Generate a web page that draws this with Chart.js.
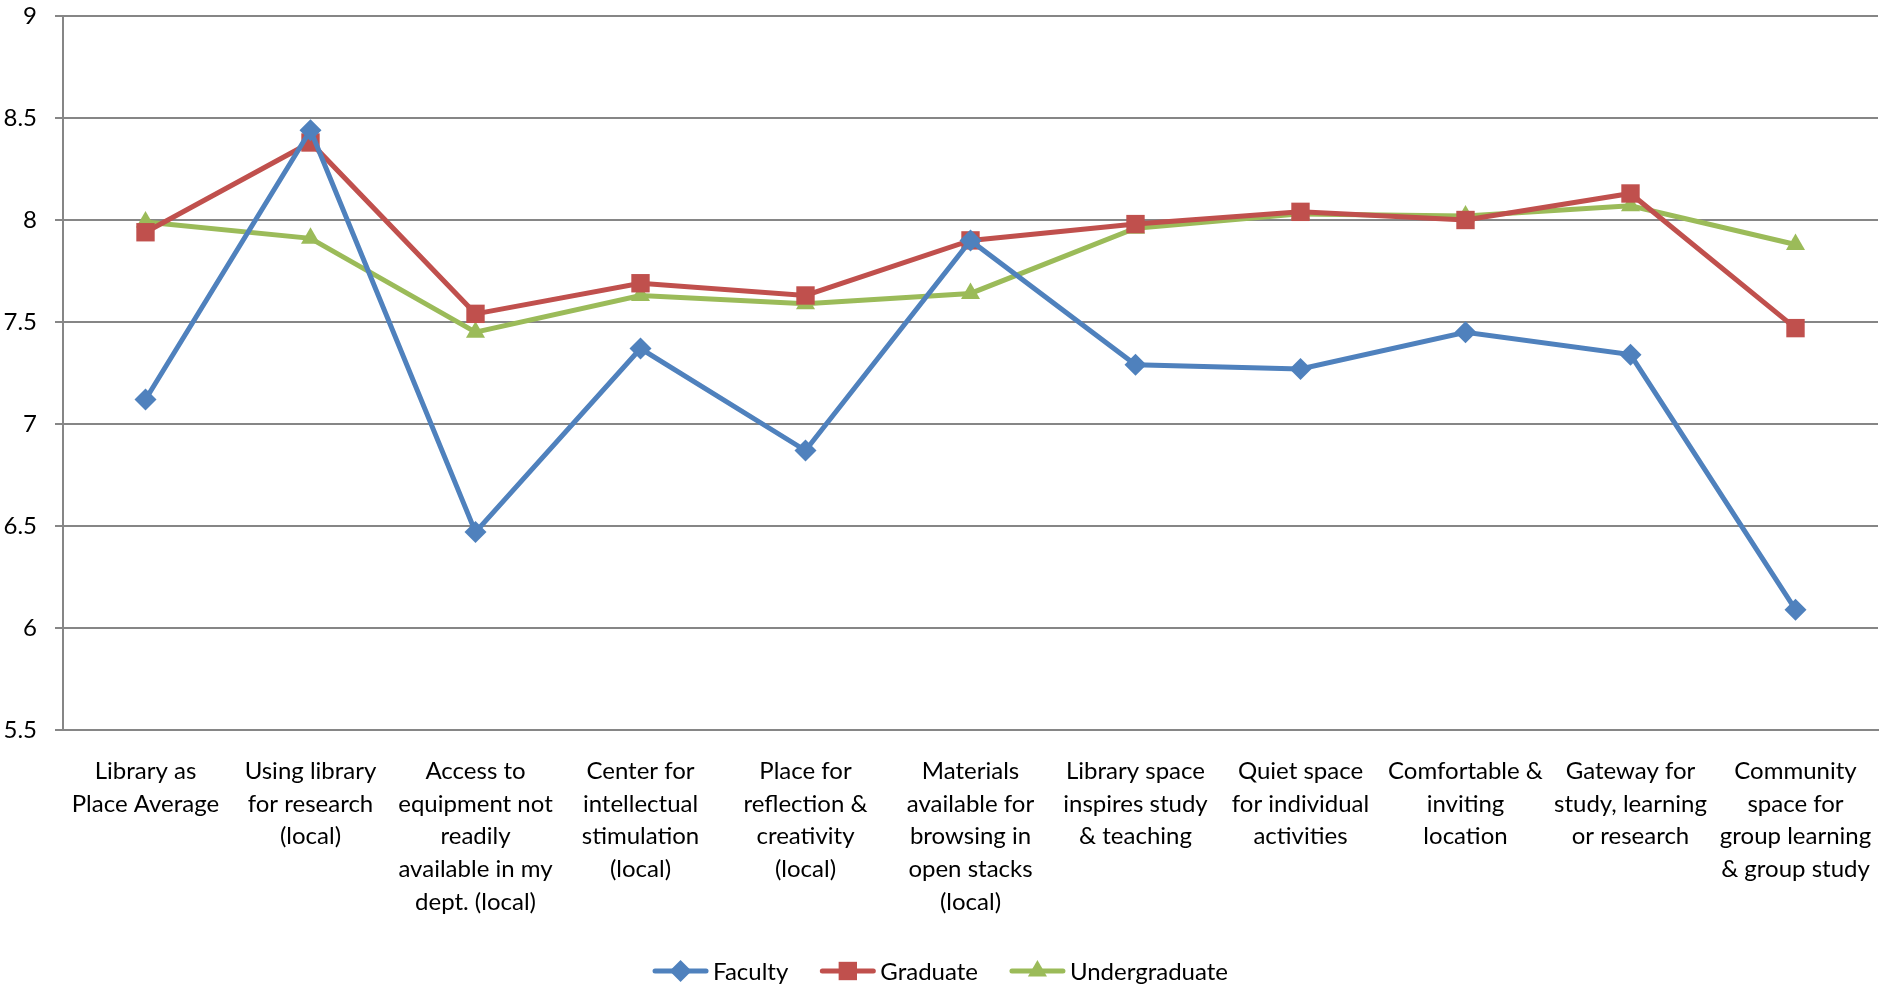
<!DOCTYPE html>
<html>
<head>
<meta charset="utf-8">
<script src="https://cdn.jsdelivr.net/npm/chart.js@4.4.1/dist/chart.umd.min.js"></script>
<style>
  html, body { margin: 0; padding: 0; background: #fff; overflow: hidden; }
  #wrap { width: 1881px; height: 985px; position: relative; }
  #libChart { display: block; }
</style>
</head>
<body>
<div id="wrap"><canvas id="libChart"></canvas></div>
<script>
// categories (wrapped the same way as the original)
const categories = [
    ['Library as', 'Place Average'],
    ['Using library', 'for research', '(local)'],
    ['Access to', 'equipment not', 'readily', 'available in my', 'dept. (local)'],
    ['Center for', 'intellectual', 'stimulation', '(local)'],
    ['Place for', 'reflection &', 'creativity', '(local)'],
    ['Materials', 'available for', 'browsing in', 'open stacks', '(local)'],
    ['Library space', 'inspires study', '& teaching'],
    ['Quiet space', 'for individual', 'activities'],
    ['Comfortable &', 'inviting', 'location'],
    ['Gateway for', 'study, learning', 'or research'],
    ['Community', 'space for', 'group learning', '& group study']
];

const facultyValues = [7.12, 8.44, 6.47, 7.37, 6.87, 7.90, 7.29, 7.27, 7.45, 7.34, 6.09];
const graduateValues = [7.94, 8.38, 7.54, 7.69, 7.63, 7.90, 7.98, 8.04, 8.00, 8.13, 7.47];
const undergradValues = [7.99, 7.91, 7.45, 7.63, 7.59, 7.64, 7.96, 8.03, 8.02, 8.07, 7.88];

const yMin = 5.5;
const yMax = 9;
const yStep = 0.5;

const FONT = 'Lato, "Open Sans", sans-serif';

function makeSeries(label, data, color, style, radius) {
    return {
        label: label,
        data: data,
        borderColor: color,
        backgroundColor: color,
        borderWidth: 5,
        pointStyle: style,
        pointRadius: radius,
        pointHoverRadius: radius,
        pointBorderWidth: 0,
        tension: 0
    };
}

// custom legend: short line with the marker in its middle, like the office style
const lineLegend = {
    id: 'lineLegend',
    afterDraw(chart) {
        const ctx = chart.ctx;
        ctx.save();
        ctx.font = '24px ' + FONT;
        ctx.textBaseline = 'middle';
        const lineLen = 55;
        const items = chart.data.datasets.map(ds => ({
            ds: ds,
            w: lineLen + 5 + ctx.measureText(ds.label).width
        }));
        const gap = 32;
        const total = items.reduce((s, it) => s + it.w, 0) + gap * (items.length - 1);
        let x = chart.width / 2 - total / 2;
        const y = 971;
        items.forEach(it => {
            ctx.strokeStyle = it.ds.borderColor;
            ctx.lineWidth = 5;
            ctx.lineCap = 'round';
            ctx.beginPath();
            ctx.moveTo(x + 2, y);
            ctx.lineTo(x + lineLen - 2, y);
            ctx.stroke();
            ctx.fillStyle = it.ds.backgroundColor;
            Chart.helpers.drawPoint(ctx, {
                pointStyle: it.ds.pointStyle,
                radius: it.ds.pointRadius,
                rotation: 0,
                borderWidth: 0
            }, x + lineLen / 2, y);
            ctx.fillStyle = '#000';
            ctx.fillText(it.ds.label, x + lineLen + 5, y + 1);
            x += it.w + gap;
        });
        ctx.restore();
    }
};

new Chart(document.getElementById('libChart'), {
    type: 'line',
    data: {
        labels: categories,
        datasets: [
            makeSeries('Faculty', facultyValues, '#4F81BD', 'rectRot', 11),
            makeSeries('Graduate', graduateValues, '#C0504D', 'rect', 13),
            makeSeries('Undergraduate', undergradValues, '#9BBB59', 'triangle', 11)
        ]
    },
    options: {
        responsive: true,
        maintainAspectRatio: false,
        animation: false,
        layout: { autoPadding: false, padding: { top: 0, right: 3, left: 0, bottom: 0 } },
        plugins: {
            legend: { display: false },
            tooltip: { enabled: false }
        },
        scales: {
            x: {
                offset: true,
                grid: { display: false, drawTicks: false },
                border: { display: true, color: '#868686', width: 2 },
                ticks: {
                    color: '#000',
                    font: { family: FONT, size: 24, lineHeight: 1.36 },
                    maxRotation: 0,
                    autoSkip: false,
                    padding: 25
                },
                afterFit(scale) {
                    scale.height = 255;
                    scale.paddingLeft = 0;
                    scale.paddingRight = 3;
                }
            },
            y: {
                min: yMin,
                max: yMax,
                ticks: {
                    stepSize: yStep,
                    color: '#000',
                    font: { family: FONT, size: 24 },
                    padding: 18,
                    callback: v => String(v)
                },
                grid: { color: '#868686', lineWidth: 2, tickLength: 8 },
                border: { display: true, color: '#868686', width: 2 },
                afterFit(scale) {
                    scale.width = 63;
                    scale.paddingTop = 16;
                    scale.paddingBottom = 0;
                }
            }
        }
    },
    plugins: [lineLegend]
});
</script>
</body>
</html>
